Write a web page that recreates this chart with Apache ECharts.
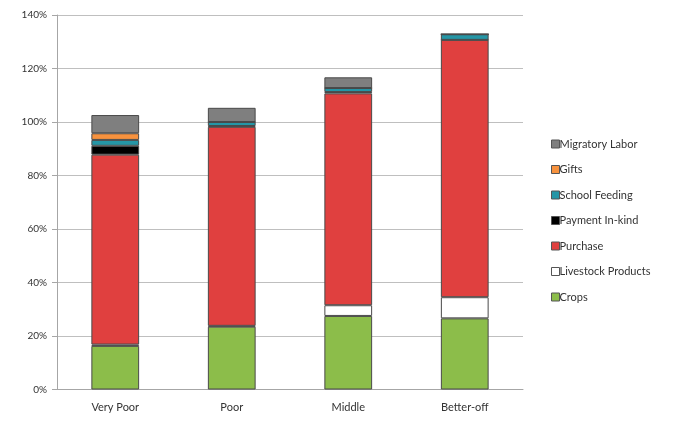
<!DOCTYPE html>
<html><head><meta charset="utf-8">
<script src="https://cdn.jsdelivr.net/npm/echarts@6/dist/echarts.min.js"></script>
<style>html,body{margin:0;padding:0;background:#fff}#c{width:673px;height:423px}</style>
</head><body><div id="c"></div>
<script>
const categories = ["Very Poor", "Poor", "Middle", "Better-off"];
const crops = [16.3, 23.5, 27.5, 26.6];
const livestock = [0.5, 0.3, 4.0, 7.9];
const purchase = [71.0, 74.4, 79.2, 96.2];
const paymentInKind = [3.3, 0.3, 0.5, 0];
const schoolFeeding = [2.2, 1.5, 1.5, 2.1];
const gifts = [2.5, 0, 0, 0];
const migratoryLabor = [6.8, 5.3, 4.0, 0];
const yTicks = [0, 20, 40, 60, 80, 100, 120, 140];

const font = "Lato, 'Open Sans', sans-serif";
const border = {borderColor: '#4a4a4a', borderWidth: 1};
function s(name, data, color) {
  return {name, type: 'bar', stack: 'a', data, barWidth: '41%',
    itemStyle: Object.assign({color}, border)};
}
const series = [
  s('Crops', crops, '#8cbd4a'),
  s('Livestock Products', livestock, '#ffffff'),
  s('Purchase', purchase, '#e0403f'),
  s('Payment In-kind', paymentInKind, '#000000'),
  s('School Feeding', schoolFeeding, '#2596a6'),
  s('Gifts', gifts, '#f7923e'),
  s('Migratory Labor', migratoryLabor, '#7f7f7f')
];
const chart = echarts.init(document.getElementById('c'), null, {renderer: 'canvas'});
chart.setOption({
  animation: false,
  backgroundColor: '#fff',
  grid: {left: 57, right: 150, top: 15, bottom: 33.5},
  legend: {
    orient: 'vertical', left: 546, top: 132,
    data: ['Migratory Labor', 'Gifts', 'School Feeding', 'Payment In-kind', 'Purchase', 'Livestock Products', 'Crops'],
    itemWidth: 8, itemHeight: 8, itemGap: 11.5,
    icon: 'rect',
    itemStyle: {borderColor: '#555', borderWidth: 1},
    textStyle: {fontFamily: font, fontSize: 11, color: '#333', lineHeight: 14, padding: [0,0,0,-5]}
  },
  xAxis: {
    type: 'category', data: categories,
    axisLine: {lineStyle: {color: '#a6a6a6'}},
    axisTick: {show: false},
    axisLabel: {fontFamily: font, fontSize: 11, color: '#333', margin: 12}
  },
  yAxis: {
    type: 'value', min: 0, max: 140, interval: 20,
    axisLine: {show: true, lineStyle: {color: '#a6a6a6'}},
    axisTick: {show: true, length: 5, inside: false, lineStyle: {color: '#a6a6a6'}},
    splitLine: {lineStyle: {color: '#bfbfbf'}},
    axisLabel: {fontFamily: font, fontSize: 10, color: '#333', margin: 10,
      formatter: v => yTicks.includes(v) ? v + '%' : ''}
  },
  series
});
</script></body></html>
